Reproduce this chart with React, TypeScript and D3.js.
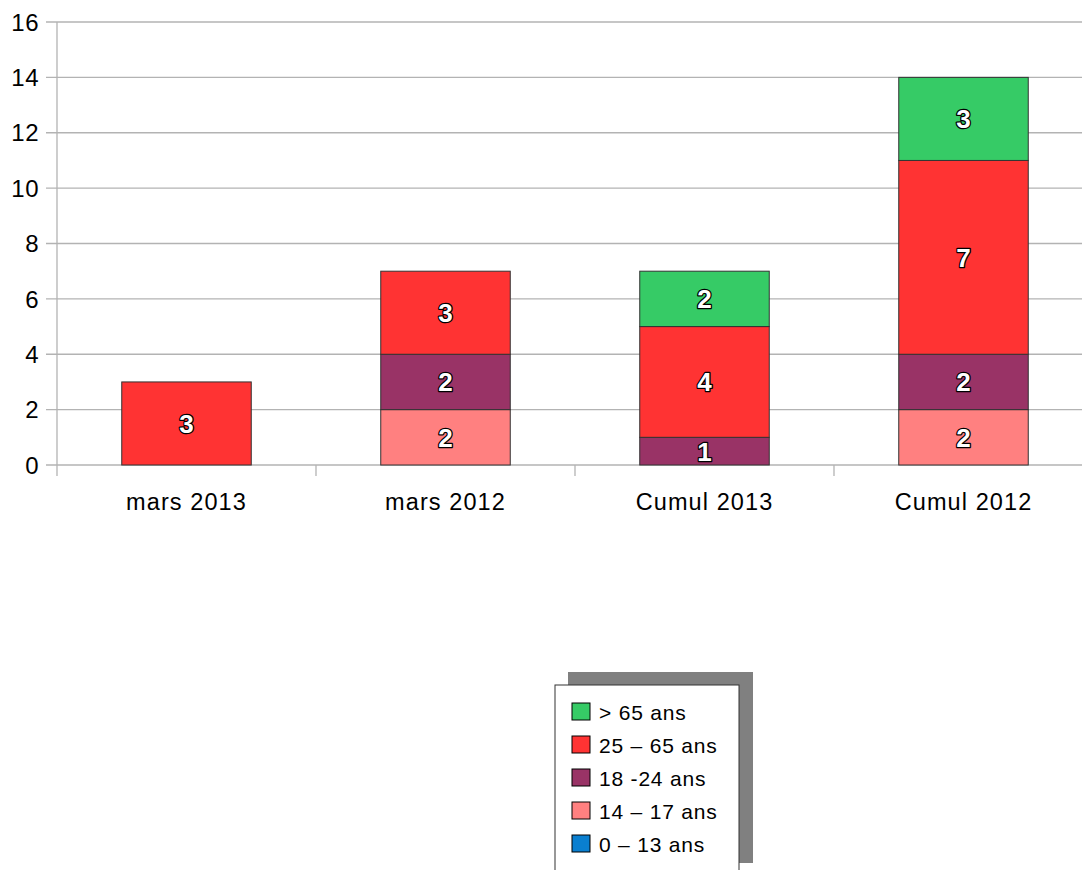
import React from "react";
import * as d3 from "d3";

const categories = ["mars 2013", "mars 2012", "Cumul 2013", "Cumul 2012"];
const seriesNames = ["0 – 13 ans", "14 – 17 ans", "18 -24 ans", "25 – 65 ans", "> 65 ans"];
const seriesColors = ["#0a7fd0", "#ff8080", "#993366", "#ff3333", "#36cb66"];
const s0_13 = [0, 0, 0, 0];
const s14_17 = [0, 2, 0, 2];
const s18_24 = [0, 2, 1, 2];
const s25_65 = [3, 3, 4, 7];
const s65 = [0, 0, 2, 3];
const yTicks = [0, 2, 4, 6, 8, 10, 12, 14, 16];

const FONT = "'Liberation Sans', Arial, sans-serif";

export default function App() {
  const left = 57, top = 22, bottom = 465;
  const band = 259;
  const x = d3.scaleBand<string>().domain(categories).range([left, left + band * categories.length]).paddingInner(0).paddingOuter(0);
  const y = d3.scaleLinear().domain([0, 16]).range([bottom, top]);
  const series = [s0_13, s14_17, s18_24, s25_65, s65];
  const table = categories.map((c, i) => {
    const o: any = { cat: c };
    seriesNames.forEach((n, k) => (o[n] = series[k][i]));
    return o;
  });
  const stacked = d3.stack<any>().keys(seriesNames)(table);
  const bw = x.bandwidth() / 2;

  const legendX = 555, legendY = 685;
  return (
    <svg width={1082} height={870} style={{ position: "absolute", left: 0, top: 0 }} fontFamily={FONT}>
      <rect x={0} y={0} width={1082} height={870} fill="#fff" />
      {yTicks.map((t) => (
        <g key={t}>
          <line x1={46} x2={1082} y1={y(t)} y2={y(t)} stroke="#b3b3b3" strokeWidth={1.3} />
          <text x={39} y={y(t)} dy="0.36em" textAnchor="end" fontSize={24} letterSpacing={0.5} fill="#000">{t}</text>
        </g>
      ))}
      <line x1={left} x2={left} y1={top} y2={bottom + 11} stroke="#b3b3b3" strokeWidth={1.3} />
      {categories.map((c, i) => (
        <g key={c}>
          {i > 0 && <line x1={x(c)!} x2={x(c)!} y1={bottom} y2={bottom + 11} stroke="#b3b3b3" strokeWidth={1.3} />}
          <text x={x(c)! + x.bandwidth() / 2} y={510} textAnchor="middle" fontSize={23.5} letterSpacing={1.1} fill="#000">{c}</text>
        </g>
      ))}
      {stacked.map((s, k) => (
        <g key={s.key}>
          {s.map((d, i) => {
            const v = d[1] - d[0];
            if (v <= 0) return null;
            const cx = x(categories[i])! + x.bandwidth() / 2;
            return (
              <rect key={i} x={cx - bw / 2} y={y(d[1])} width={bw} height={y(d[0]) - y(d[1])} fill={seriesColors[k]} stroke="#333" strokeWidth={1} />
            );
          })}
        </g>
      ))}
      {stacked.map((s, k) => (
        <g key={"l" + s.key}>
          {s.map((d, i) => {
            const v = d[1] - d[0];
            if (v <= 0) return null;
            const cx = x(categories[i])! + x.bandwidth() / 2;
            return (
              <text key={i} x={cx} y={(y(d[0]) + y(d[1])) / 2} dy="0.36em" textAnchor="middle" fontSize={26} fontWeight="bold" fill="#fff" stroke="#000" strokeWidth={2.5} paintOrder="stroke" strokeLinejoin="round">{v}</text>
            );
          })}
        </g>
      ))}
      <rect x={568} y={672} width={185} height={191} fill="#808080" />
      <rect x={legendX} y={legendY} width={184} height={200} fill="#fff" stroke="#333" strokeWidth={1} />
      {seriesNames.slice().reverse().map((n, j) => {
        const k = seriesNames.length - 1 - j;
        const yy = 703 + j * 33;
        return (
          <g key={n}>
            <rect x={572} y={yy} width={18} height={17} fill={seriesColors[k]} stroke="#000" strokeWidth={1} />
            <text x={599} y={yy + 9} dy="0.36em" fontSize={21} letterSpacing={0.8} fill="#000">{n}</text>
          </g>
        );
      })}
    </svg>
  );
}
